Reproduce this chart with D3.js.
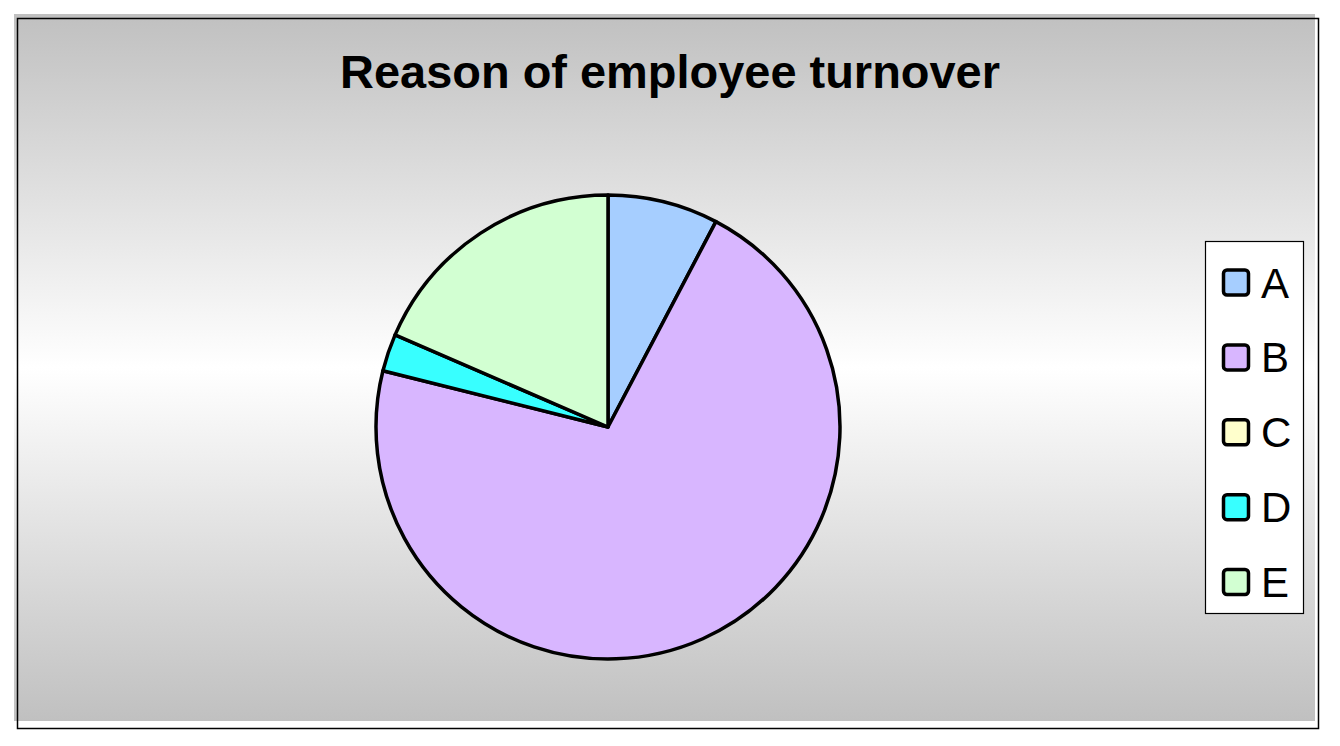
<!DOCTYPE html>
<html>
<head>
<meta charset="utf-8">
<script src="https://cdn.jsdelivr.net/npm/d3@7"></script>
<style>
  html, body { margin: 0; padding: 0; background: #ffffff; }
  svg { display: block; }
</style>
</head>
<body>
<svg id="chart" width="1340" height="746"></svg>
<script>
const title = "Reason of employee turnover";
const categories = ["A", "B", "C", "D", "E"];
const values = [7.7, 71.2, 0, 2.6, 18.5];
const colors = ["#a6ceff", "#d8b6ff", "#ffffcc", "#38ffff", "#d2ffd2"];

const svg = d3.select("#chart");
const defs = svg.append("defs");

// background gradient
const grad = defs.append("linearGradient").attr("id", "bg")
  .attr("x1", 0).attr("y1", 0).attr("x2", 0).attr("y2", 1);
grad.append("stop").attr("offset", "0%").attr("stop-color", "#c0c0c0");
grad.append("stop").attr("offset", "50%").attr("stop-color", "#ffffff");
grad.append("stop").attr("offset", "100%").attr("stop-color", "#c0c0c0");

// frame
svg.append("rect").attr("x", 14).attr("y", 14).attr("width", 1301).attr("height", 707)
  .attr("fill", "url(#bg)");
svg.append("rect").attr("x", 17.5).attr("y", 18.5).attr("width", 1301).attr("height", 710)
  .attr("fill", "none").attr("stroke", "#000").attr("stroke-width", 1.5);

// title
const t = svg.append("text").attr("x", 670).attr("y", 88)
  .attr("text-anchor", "middle")
  .attr("font-family", "Liberation Sans, Arial, sans-serif")
  .attr("font-weight", "bold").attr("font-size", 42)
  .attr("fill", "#000").text(title);
const tl = t.node().getComputedTextLength();
t.attr("font-size", 42 * 660 / tl);

// pie
const cx = 608, cy = 427, r = 232;
const pie = d3.pie().sort(null).value(d => d.v);
const arcs = pie(categories.map((c, i) => ({ c, v: values[i], i })));
const arc = d3.arc().innerRadius(0).outerRadius(r);
const g = svg.append("g").attr("transform", `translate(${cx},${cy})`);
g.selectAll("path").data(arcs.filter(a => a.data.v > 0)).enter().append("path")
  .attr("d", arc)
  .attr("fill", d => colors[d.data.i])
  .attr("stroke", "#000").attr("stroke-width", 3.5).attr("stroke-linejoin", "round");

// legend
const lg = svg.append("g");
lg.append("rect").attr("x", 1205.5).attr("y", 241.5).attr("width", 98).attr("height", 372)
  .attr("fill", "#fff").attr("stroke", "#000").attr("stroke-width", 1.2);
const ly = d3.scalePoint().domain(categories).range([282.5, 582]);
categories.forEach((c, i) => {
  const y = ly(c);
  lg.append("rect").attr("x", 1223.5).attr("y", y - 12.5).attr("width", 25).attr("height", 25)
    .attr("rx", 3.5).attr("fill", colors[i]).attr("stroke", "#000").attr("stroke-width", 3.5);
  lg.append("text").attr("x", 1261).attr("y", y + 15)
    .attr("font-family", "Liberation Sans, Arial, sans-serif")
    .attr("font-size", 42).attr("fill", "#000").text(c);
});
</script>
</body>
</html>
